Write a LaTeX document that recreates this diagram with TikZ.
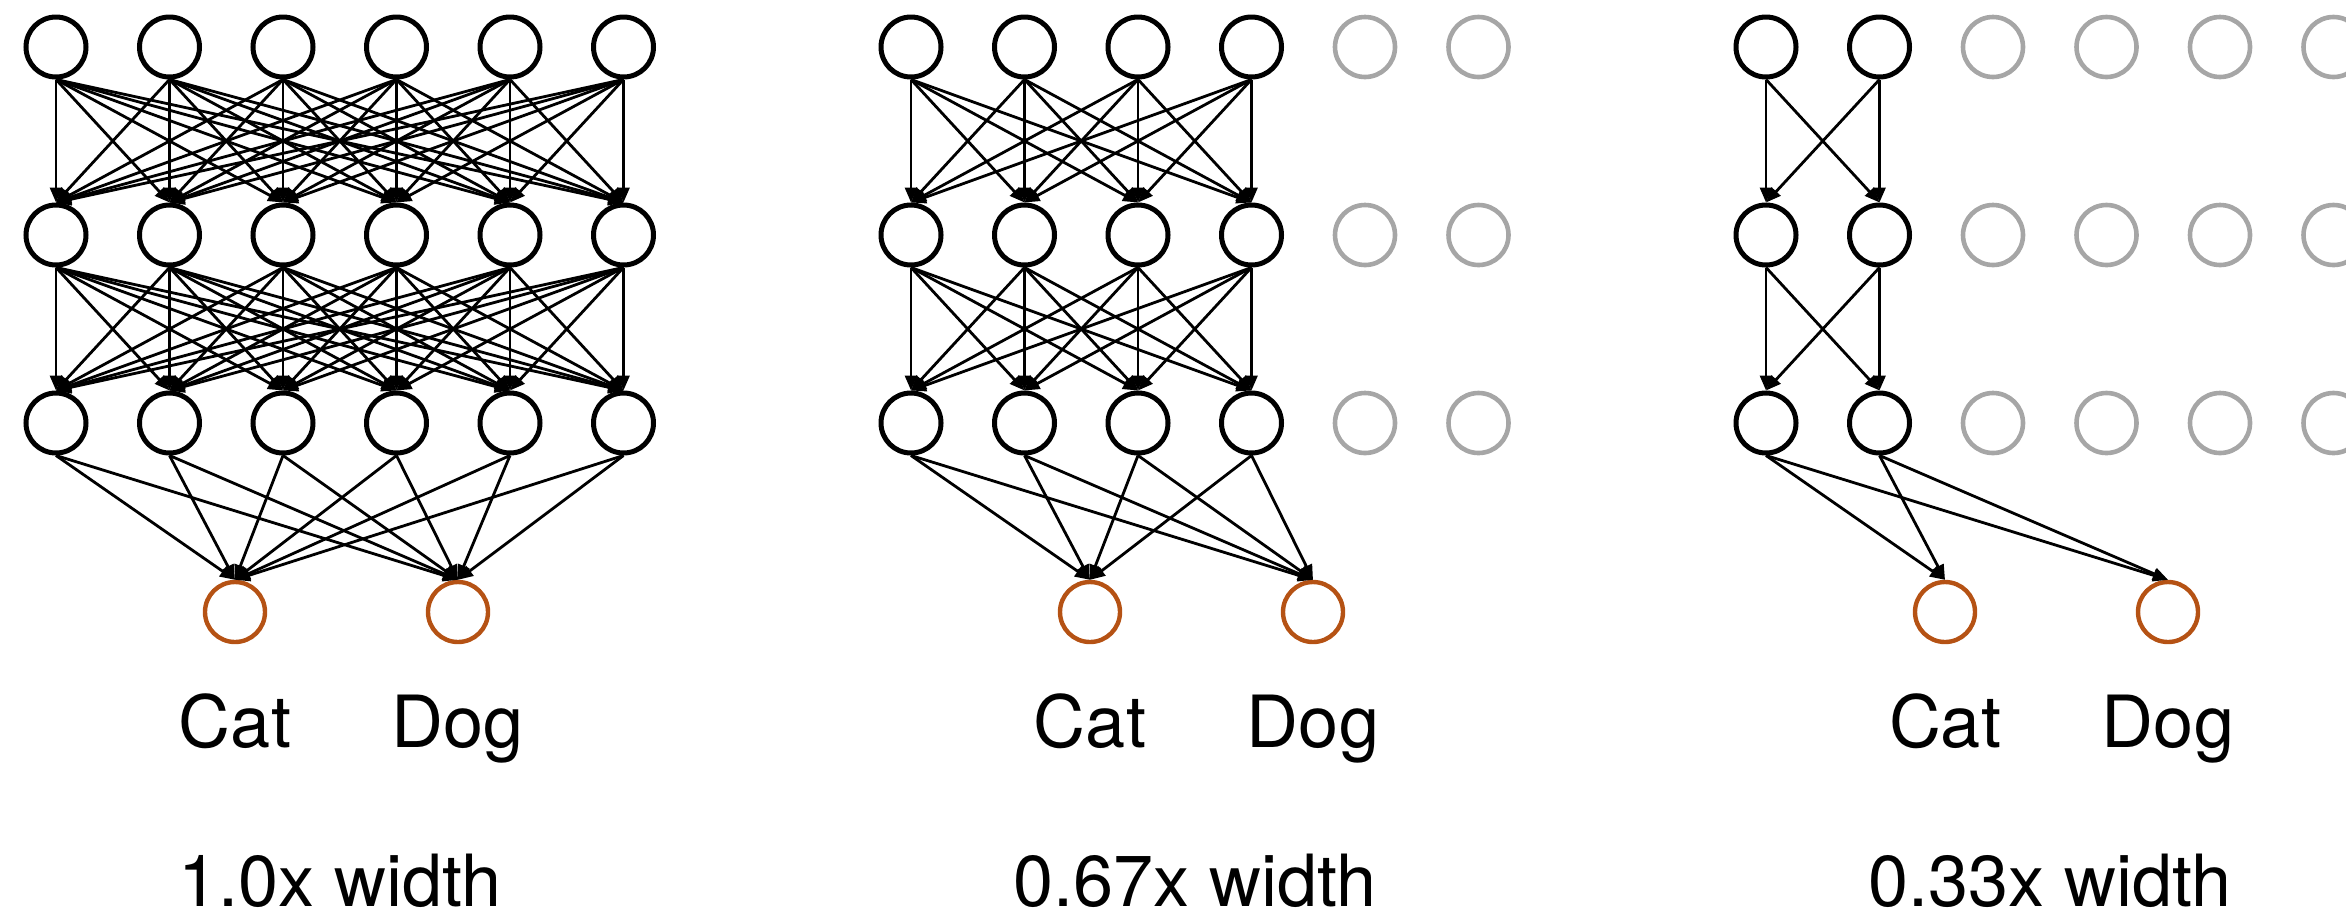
\documentclass[tikz,border=0pt]{standalone}
\usepackage{fontspec}
\setmainfont{TeX Gyre Heros}
\usetikzlibrary{arrows.meta}
\definecolor{outorange}{RGB}{181,82,20}
\definecolor{idlegray}{RGB}{166,166,166}
\begin{document}
\begin{tikzpicture}[x=0.5pt,y=-0.5pt,
  neuron/.style={circle,draw=black,line width=2.5pt,minimum size=30pt,inner sep=0pt},
  idle/.style={neuron,draw=idlegray,line width=2.3pt},
  outneuron/.style={neuron,draw=outorange,line width=2.2pt},
  wire/.style={line width=1.4pt,-{Triangle[length=7.5pt,width=6pt]}},
  txt/.style={font=\fontsize{36}{43}\selectfont,anchor=base,inner sep=0pt},
  captxt/.style={txt,text depth=0pt}
]
\useasboundingbox (0,0) rectangle (2346,923);

% three networks: full width, two thirds, one third
\foreach \p/\act/\cap in {0/6/1.0x width,1/4/0.67x width,2/2/0.33x width} {
  % hidden layers, idle units drawn in gray
  \foreach \r/\y in {1/47,2/235,3/423} {
    \foreach \c in {1,...,6} {
      \pgfmathsetmacro{\xx}{56+(\c-1)*113.5+\p*855}
      \ifnum\c>\act
        \node[idle] (n-\p-\r-\c) at (\xx,\y) {};
      \else
        \node[neuron] (n-\p-\r-\c) at (\xx,\y) {};
      \fi
    }
  }
  % output units and class names
  \pgfmathsetmacro{\xa}{235+\p*855}
  \pgfmathsetmacro{\xb}{458+\p*855}
  \pgfmathsetmacro{\xm}{340+\p*855}
  \node[outneuron] (o-\p-1) at (\xa,612) {};
  \node[outneuron] (o-\p-2) at (\xb,612) {};
  \node[txt] (cat-\p) at (\xa,747) {Cat};
  \node[txt] (dog-\p) at (\xb,747) {Dog};
  \node[captxt] (cap-\p) at (\xm,906) {\cap};
  % dense connections between active units
  \foreach \r/\rr in {1/2,2/3} {
    \foreach \i in {1,...,\act} {
      \foreach \j in {1,...,\act} {
        \draw[wire] (n-\p-\r-\i.south) -- (n-\p-\rr-\j.north);
      }
    }
  }
  \foreach \i in {1,...,\act} {
    \foreach \k in {1,2} {
      \draw[wire] (n-\p-3-\i.south) -- (o-\p-\k.north);
    }
  }
}
\end{tikzpicture}
\end{document}
